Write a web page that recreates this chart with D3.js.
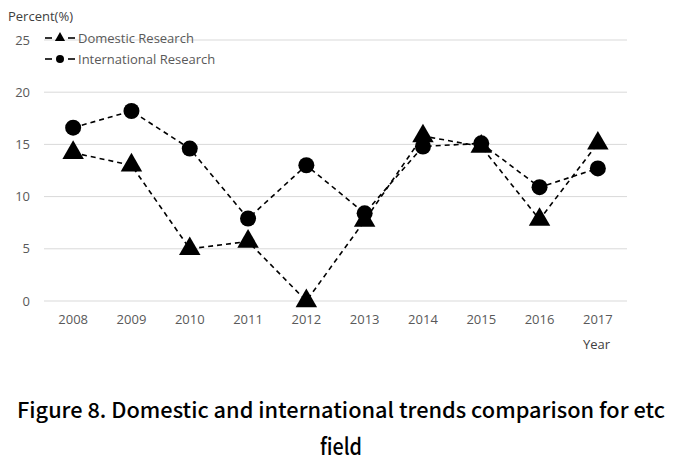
<!DOCTYPE html>
<html><head><meta charset="utf-8">
<script src="https://cdn.jsdelivr.net/npm/d3@7"></script>
<style>body{margin:0;background:#fff}</style>
</head><body><svg id="c" width="683" height="464"></svg>
<script>
const years = ["2008","2009","2010","2011","2012","2013","2014","2015","2016","2017"];
const domestic = [14.2, 13.0, 5.0, 5.7, 0.0, 7.7, 15.8, 14.8, 7.8, 15.1];
const international = [16.6, 18.2, 14.6, 7.9, 13.0, 8.4, 14.8, 15.1, 10.9, 12.7];
const yTicks = [0, 5, 10, 15, 20, 25];
const seriesNames = ["Domestic Research", "International Research"];

const svg = d3.select("#c");
const m = {l: 44, r: 56, t: 40, b: 163};
const W = 683, H = 464;
const x = d3.scaleBand().domain(years).range([m.l, W - m.r]);
const y = d3.scaleLinear().domain([0, 25]).range([H - m.b, m.t]);
const font = "'Open Sans', 'Noto Sans', sans-serif";

// grid
svg.append("g").selectAll("line").data(yTicks).join("line")
  .attr("x1", m.l).attr("x2", W - m.r)
  .attr("y1", d => y(d)).attr("y2", d => y(d))
  .attr("stroke", "#d9d9d9").attr("stroke-width", 1);

const yAxis = svg.append("g").attr("transform", `translate(${m.l},0)`)
  .call(d3.axisLeft(y).tickValues(yTicks).tickSize(0).tickPadding(14));
yAxis.select(".domain").remove();
yAxis.selectAll("text").attr("fill", "#595959").style("font", `13px ${font}`);

const xAxis = svg.append("g").attr("transform", `translate(0,${y(0)})`)
  .call(d3.axisBottom(x).tickSize(0).tickPadding(14));
xAxis.select(".domain").remove();
xAxis.selectAll("text").attr("fill", "#595959").style("font", `13px ${font}`);

svg.append("text").attr("x", 8).attr("y", 21).text("Percent(%)")
  .attr("fill", "#404040").style("font", `13px ${font}`);
svg.append("text").attr("x", 583).attr("y", 349).text("Year")
  .attr("fill", "#404040").style("font", `13px ${font}`);

const line = d3.line().x((d, i) => x(years[i]) + x.bandwidth() / 2).y(d => y(d));
const tri = d3.symbol().type(d3.symbolTriangle).size(200);

[domestic, international].forEach((s, k) => {
  svg.append("path").datum(s).attr("d", line).attr("fill", "none")
    .attr("stroke", "#000").attr("stroke-width", 1.6).attr("stroke-dasharray", "5,4");
});
svg.append("g").selectAll("circle").data(international).join("circle")
  .attr("cx", (d, i) => x(years[i]) + x.bandwidth() / 2).attr("cy", d => y(d))
  .attr("r", 8).attr("fill", "#000");
svg.append("g").selectAll("path").data(domestic).join("path")
  .attr("d", tri)
  .attr("transform", (d, i) => `translate(${x(years[i]) + x.bandwidth() / 2},${y(d)})`)
  .attr("fill", "#000");

// legend
const lg = svg.append("g");
seriesNames.forEach((n, k) => {
  const yy = 38 + k * 21;
  lg.append("line").attr("x1", 45).attr("x2", 52).attr("y1", yy).attr("y2", yy).attr("stroke", "#000").attr("stroke-width", 1.6);
  lg.append("line").attr("x1", 68).attr("x2", 75).attr("y1", yy).attr("y2", yy).attr("stroke", "#000").attr("stroke-width", 1.6);
  if (k === 0) {
    lg.append("path").attr("d", d3.symbol().type(d3.symbolTriangle).size(45)).attr("transform", `translate(60,${yy})`);
  } else {
    lg.append("circle").attr("cx", 60).attr("cy", yy).attr("r", 4);
  }
  lg.append("text").attr("x", 78).attr("y", yy + 4.5).text(n)
    .attr("fill", "#595959").style("font", `13px ${font}`);
});

const tf = "'Noto Sans CJK KR', 'Noto Sans', sans-serif";
svg.append("text").attr("x", 341).attr("y", 418).attr("text-anchor", "middle")
  .text("Figure 8. Domestic and international trends comparison for etc")
  .attr("fill", "#000").style("font", `500 21px ${tf}`).attr("textLength", 648).attr("lengthAdjust", "spacingAndGlyphs");
svg.append("text").attr("x", 341).attr("y", 455).attr("text-anchor", "middle")
  .text("field").attr("fill", "#000").style("font", `500 23px ${tf}`)
  .attr("textLength", 42).attr("lengthAdjust", "spacingAndGlyphs");
</script></body></html>
